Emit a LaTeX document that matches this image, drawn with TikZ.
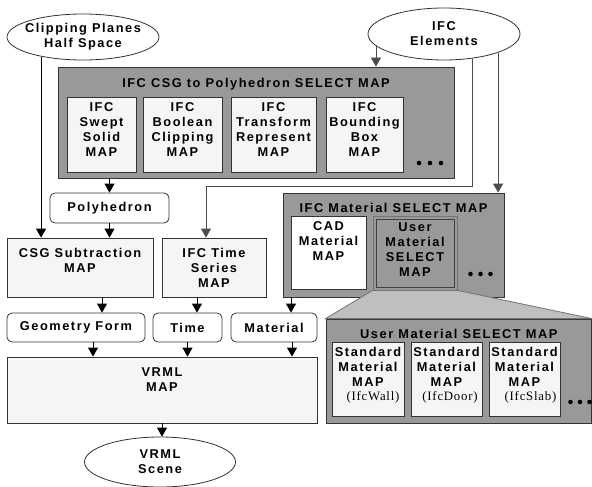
\documentclass[tikz,border=0pt]{standalone}
\usepackage{fontspec}
\setsansfont{Liberation Sans}[LetterSpace=12]
\newfontfamily\idfont{Liberation Serif}[LetterSpace=6]
\usetikzlibrary{arrows.meta,shapes.geometric}

\tikzset{
  mapfont/.style={font=\sffamily\bfseries\fontsize{12.8}{15}\selectfont},
  txt/.style={mapfont, align=center, inner sep=0pt, anchor=north},
  idtxt/.style={font=\idfont\fontsize{12.8}{15}\selectfont, inner sep=0pt},
  selbox/.style={draw=black!80, fill=black!40, line width=0.8pt, inner sep=0pt},
  mapbox/.style={draw=black!80, fill=black!4, line width=0.8pt, inner sep=0pt},
  datbox/.style={mapbox, fill=white, rounded corners=5pt, mapfont},
  ovalbox/.style={ellipse, draw=black!80, fill=white, line width=0.8pt, mapfont, align=center, inner xsep=-14pt, inner ysep=0pt},
  arr/.style={-{Triangle[width=10pt,length=9pt]}, black, line width=0.8pt},
  feed/.style={arr, black!70}
}

\begin{document}
\begin{tikzpicture}[x=1pt,y=-1pt]
\useasboundingbox (0,0) rectangle (592,487);

% inputs
\node[ovalbox, minimum width=152pt, minimum height=46pt] (clip) at (83,37) {Clipping Planes\\Half Space};
\node[ovalbox, minimum width=152pt, minimum height=52pt] (elem) at (444,34) {IFC\\Elements};

% CSG select map
\node[selbox, minimum width=396pt, minimum height=111pt] (csgsel) at (256,122.5) {};
\node[txt] (csgseltitle) at ([yshift=-11.5pt]csgsel.north) {IFC CSG to Polyhedron SELECT MAP};
\node[mapbox, minimum width=69pt, minimum height=75pt] (swept) at (101.5,134.5) {};
\node[txt] (swepttxt) at ([yshift=-5.5pt]swept.north) {IFC\\Swept\\Solid\\MAP};
\node[mapbox, minimum width=79pt, minimum height=75pt] (boolean) at (182.5,134.5) {};
\node[txt] (booleantxt) at ([yshift=-5.5pt]boolean.north) {IFC\\Boolean\\Clipping\\MAP};
\node[mapbox, minimum width=85pt, minimum height=75pt] (transform) at (273.5,134.5) {};
\node[txt] (transformtxt) at ([yshift=-5.5pt]transform.north) {IFC\\Transform\\Represent\\MAP};
\node[mapbox, minimum width=77pt, minimum height=75pt] (bounding) at (364.5,134.5) {};
\node[txt] (boundingtxt) at ([yshift=-5.5pt]bounding.north) {IFC\\Bounding\\Box\\MAP};
\foreach \x in {419,430,441}
  \fill (\x,163) circle (2.3pt);

% geometry branch
\node[datbox, minimum width=119pt, minimum height=30pt] (poly) at (109.5,208) {Polyhedron};
\node[mapbox, minimum width=146pt, minimum height=59pt] (csgsub) at (80,267.5) {};
\node[txt] (csgsubtxt) at ([yshift=-10.5pt]csgsub.north) {CSG Subtraction\\MAP};
\node[mapbox, minimum width=104pt, minimum height=59pt] (timeser) at (214,267.5) {};
\node[txt] (timesertxt) at ([yshift=-10.5pt]timeser.north) {IFC Time\\Series\\MAP};

% material select map
\node[selbox, minimum width=221pt, minimum height=104pt] (matsel) at (393.5,245) {};
\node[txt] (matseltitle) at ([yshift=-10.5pt]matsel.north) {IFC Material SELECT MAP};
\node[mapbox, fill=white, minimum width=75pt, minimum height=73pt] (cad) at (328.5,252.5) {};
\node[txt] (cadtxt) at ([yshift=-5.5pt]cad.north) {CAD\\Material\\MAP};
\node[selbox, draw=black!55, minimum width=84pt, minimum height=74pt] (usersel) at (415,253) {};
\node[selbox, fill=none, draw=black!75, minimum width=78pt, minimum height=68pt] (userselin) at (415,253) {};
\node[txt] (userseltxt) at ([yshift=-6.5pt]usersel.north) {User\\Material\\SELECT\\MAP};
\foreach \x in {470.5,480.5,490.5}
  \fill (\x,274) circle (2.3pt);

% expanded user material select map
\node[selbox, minimum width=265.5pt, minimum height=104pt] (usermap) at (458.75,371) {};
\fill[black!25, draw=black!55, line width=0.8pt] (usersel.south west) -- (usersel.south east)
  -- (usermap.north east) -- (usermap.north west) -- cycle;
\node[txt] (usermaptitle) at ([yshift=-10.5pt]usermap.north) {User Material SELECT MAP};
\node[mapbox, minimum width=72pt, minimum height=74pt] (std1) at (368,379) {};
\node[txt] (std1txt) at ([yshift=-5.5pt]std1.north) {Standard\\Material\\MAP};
\node[idtxt] (std1id) at (373,397.5) {(IfcWall)};
\node[mapbox, minimum width=71pt, minimum height=74pt] (std2) at (446.5,379) {};
\node[txt] (std2txt) at ([yshift=-5.5pt]std2.north) {Standard\\Material\\MAP};
\node[idtxt] (std2id) at (450,397.5) {(IfcDoor)};
\node[mapbox, minimum width=71pt, minimum height=74pt] (std3) at (524.5,379) {};
\node[txt] (std3txt) at ([yshift=-5.5pt]std3.north) {Standard\\Material\\MAP};
\node[idtxt] (std3id) at (530.5,397.5) {(IfcSlab)};
\foreach \x in {570.5,580,589.5}
  \fill (\x,402) circle (2.3pt);

% data and output
\node[datbox, minimum width=138pt, minimum height=29pt] (geom) at (76,327.5) {Geometry Form};
\node[datbox, minimum width=69pt, minimum height=29pt] (time) at (187.5,327.5) {Time};
\node[datbox, minimum width=86pt, minimum height=29pt] (material) at (274,327.5) {Material};
\node[mapbox, minimum width=310pt, minimum height=66pt] (vrml) at (162,390) {};
\node[txt] (vrmltxt) at ([yshift=-10.5pt]vrml.north) {VRML\\MAP};
\node[ovalbox, minimum width=151pt, minimum height=50pt] (scene) at (160,462) {VRML\\Scene};

% connectors
\draw[feed] (elem.190) -- (elem.190 |- csgsel.north);
\coordinate (tbend) at (206,186);
\draw[feed] (elem.319) |- (tbend) -- (tbend |- timeser.north);
\draw[feed] (elem.341) -- (elem.341 |- matsel.north);
\draw[arr] (clip.205) -- (clip.205 |- csgsub.north);
\draw[arr] (csgsel.south -| poly.north) -- (poly.north);
\draw[arr] (poly.south) -- (poly.south |- csgsub.north);
\draw[arr] ([xshift=22pt]csgsub.south) -- ([xshift=22pt]csgsub.south |- geom.north);
\draw[arr] ([xshift=-17pt]timeser.south) -- ([xshift=-17pt]timeser.south |- time.north);
\draw[arr] ([xshift=17pt]material.north |- matsel.south) -- ([xshift=17pt]material.north);
\draw[arr] ([xshift=17pt]geom.south) -- ([xshift=17pt]geom.south |- vrml.north);
\draw[arr] (time.south) -- (time.south |- vrml.north);
\draw[arr] ([xshift=18pt]material.south) -- ([xshift=18pt]material.south |- vrml.north);
\draw[arr] (vrml.south) -- (vrml.south |- scene.north);
\end{tikzpicture}
\end{document}
